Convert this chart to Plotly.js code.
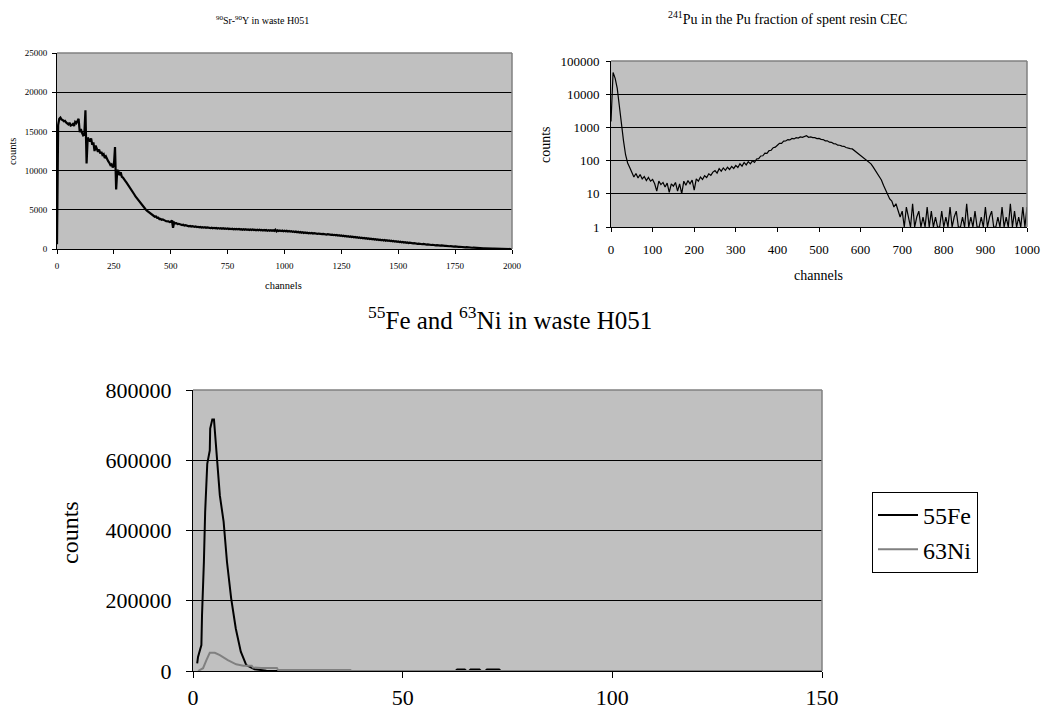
<!DOCTYPE html>
<html>
<head>
<meta charset="utf-8">
<script src="https://cdn.plot.ly/plotly-3.0.1.min.js"></script>
<style>html,body{margin:0;padding:0;background:#fff;}#chart{width:1041px;height:717px;}</style>
</head>
<body>
<div id="chart"></div>
<script>
// ---------- DATA ----------
// 90Sr-90Y spectrum, counts every 5 channels starting at channel 0
const srStart = 0;
const srStep = 5;
const srCounts = [
  600,15800,16600,16750,16500,16450,16300,16350,16150,16050,15900,16100,15750,15800,15950,15700,16200,16050,16400,16600,
  14900,15300,14800,14500,14600,17700,10900,14200,14000,13700,14100,13300,13600,12500,13200,12900,12400,12700,12200,12400,
  12000,12100,11600,11800,11400,11200,11000,10700,10800,10400,10600,13000,7600,10100,9900,9400,9800,9200,9100,8800,
  8700,8500,8300,8000,7800,7600,7400,7200,6950,6700,6500,6300,6100,5900,5700,5500,5350,5200,5050,4900,
  4800,4700,4500,4480,4300,4280,4120,4150,3980,3990,3820,3850,3720,3760,3640,3620,3540,3560,3520,3430,
  3480,3650,2700,3380,3270,3290,3180,3210,3120,3130,3050,3090,2990,3030,2960,2990,2900,2940,2860,2900,
  2850,2820,2880,2790,2830,2760,2810,2740,2780,2720,2770,2700,2750,2690,2730,2660,2720,2650,2700,2640,
  2690,2620,2670,2600,2660,2580,2640,2570,2620,2560,2610,2540,2600,2530,2590,2520,2570,2510,2560,2500,
  2550,2480,2530,2460,2520,2450,2510,2440,2500,2430,2490,2420,2480,2410,2470,2400,2460,2390,2450,2380,
  2440,2370,2430,2350,2420,2340,2410,2330,2400,2320,2390,2310,2450,2250,2380,2290,2360,2280,2350,2270,
  2340,2260,2320,2240,2300,2220,2280,2190,2250,2160,2220,2130,2190,2100,2160,2080,2130,2050,2100,2030,
  2080,2010,2060,1990,2040,1970,2010,1950,1990,1930,1970,1910,1950,1890,1930,1870,1910,1850,1890,1830,
  1870,1800,1840,1770,1810,1740,1780,1700,1750,1670,1720,1640,1690,1610,1660,1580,1630,1550,1600,1520,
  1570,1490,1540,1460,1500,1420,1470,1390,1440,1360,1410,1330,1380,1300,1350,1270,1320,1240,1290,1210,
  1260,1180,1230,1150,1200,1120,1170,1090,1140,1060,1110,1030,1080,1000,1050,970,1020,940,990,910,
  960,880,930,850,890,820,860,790,830,760,800,740,770,710,740,690,720,660,690,640,
  670,610,640,590,610,560,590,540,560,510,540,490,510,470,490,450,470,430,450,410,
  430,390,410,370,390,350,370,330,350,310,330,290,310,280,290,260,270,240,250,220,
  230,200,210,180,190,160,170,150,150,130,130,110,120,100,100,90,90,70,80,60,
  60,50,50,40,40,30,30,20,20,20,10,10,10,10,5,5,5,0,0,0,
  0
];

// 241Pu spectrum, counts every 5 channels starting at channel 0
const puStart = 0;
const puStep = 5;
const puCounts = [
  1500,45000,30000,15000,4500,1200,400,150,85,62,45,32,41,30,38,28,33,25,31,24,
  27,20,12,24,19,22,16,21,11,20,17,22,12,20,10,24,18,25,20,26,
  13,28,24,32,27,35,31,40,36,45,50,42,57,48,60,51,63,54,67,58,
  72,62,80,68,88,74,93,80,98,88,112,115,138,140,168,165,200,205,245,255,
  290,330,330,385,390,430,420,465,450,490,475,515,500,540,560,505,515,490,490,460,
  465,435,430,395,395,360,355,325,320,292,290,272,270,248,245,230,225,200,185,160,
  140,125,110,100,90,80,65,52,42,33,26,18,13,10,7,6,4,5,3,2,
  3,1,4,2,1,5,1,2,3,1,2,1,4,1,3,1,2,1,1,3,
  1,2,1,4,1,2,3,1,1,2,1,5,1,2,1,3,1,1,2,1,
  4,1,2,3,1,1,2,1,4,1,2,1,5,1,3,1,2,1,4,1,
  4
];

// 55Fe and 63Ni spectra (channel, counts)
const feChannels = [1,1.2,2,2.15,2.6,2.9,3.4,4,4.1,4.6,5,5.4,5.7,6.4,7.3,8.1,9.1,10.2,11.4,12.7,14.7,17.5,20,30,40,50,60,62.6,63,64.8,65.2,65.8,66.2,68.3,68.7,69.7,70.1,73,73.4,80,100,120,150];
const feCounts   = [22000,40000,74000,159000,311000,453000,590000,628000,690000,716000,716000,652000,590000,500000,425000,311000,207000,121000,55000,17000,5000,1000,0,0,0,0,0,0,4000,4000,0,0,4000,4000,0,0,4000,4000,0,0,0,0,0];
const niChannels = [1.2,2.4,3.2,4,5.2,6.4,8.3,10.3,12,14,14.3,16,16.3,20,20.3,37.5,37.8,150];
const niCounts   = [0,8000,31000,52000,52000,45000,31000,19000,15000,15000,10000,9000,8500,8500,3000,3000,0,0];

// tick labels
const puTickVals = [1,10,100,1000,10000,100000];
const puTickText = ["1","10","100","1000","10000","100000"];

// titles / names
const titleSr = "<sup>90</sup>Sr-<sup>90</sup>Y in waste H051";
const titlePu = "<sup>241</sup>Pu in the Pu fraction of spent resin CEC";
const titleFeNi = "<sup>55</sup>Fe and <sup>63</sup>Ni in waste H051";
const nameFe = "55Fe";
const nameNi = "63Ni";

// ---------- LAYOUT HELPERS ----------
const W = 1041, H = 717;
const fx = p => p / W;
const fy = p => 1 - p / H;
const FONT = "Liberation Serif";

const traces = [
  {x0: srStart, dx: srStep, y: srCounts, type: "scatter", mode: "lines",
   line: {color: "#000", width: 2.2}, xaxis: "x", yaxis: "y", showlegend: false, hoverinfo: "skip"},
  {x0: puStart, dx: puStep, y: puCounts, type: "scatter", mode: "lines",
   line: {color: "#000", width: 1.2}, xaxis: "x2", yaxis: "y2", showlegend: false, hoverinfo: "skip"},
  {x: feChannels, y: feCounts, type: "scatter", mode: "lines", name: nameFe,
   line: {color: "#000", width: 2}, xaxis: "x3", yaxis: "y3", hoverinfo: "skip"},
  {x: niChannels, y: niCounts, type: "scatter", mode: "lines", name: nameNi,
   line: {color: "#808080", width: 2}, xaxis: "x3", yaxis: "y3", hoverinfo: "skip"}
];

function axisBase(size, len, standoff) {
  return {
    showline: true, linecolor: "#000", linewidth: 1,
    ticks: "outside", ticklen: len, tickcolor: "#000", tickwidth: 1,
    tickfont: {family: FONT, size: size, color: "#000"},
    ticklabelstandoff: standoff, tickformat: "d", exponentformat: "none",
    zeroline: false, automargin: false, fixedrange: true
  };
}

const layout = {
  width: W, height: H,
  margin: {l: 0, r: 0, t: 0, b: 0, pad: 0},
  paper_bgcolor: "#fff",
  plot_bgcolor: "#C0C0C0",
  font: {family: FONT, color: "#000"},
  showlegend: true,
  legend: {
    x: fx(872), y: fy(492), xanchor: "left", yanchor: "top",
    bgcolor: "#fff", bordercolor: "#000", borderwidth: 1,
    font: {family: FONT, size: 24, color: "#000"},
    tracegroupgap: 0, itemwidth: 40
  },
  xaxis: Object.assign(axisBase(9, 4, 4), {
    domain: [fx(57), fx(512)], anchor: "y", range: [0, 2000], tick0: 0, dtick: 250, showgrid: false
  }),
  yaxis: Object.assign(axisBase(9, 4, 3), {
    domain: [fy(249), fy(53)], anchor: "x", range: [0, 25000], tick0: 0, dtick: 5000,
    showgrid: true, gridcolor: "#000", gridwidth: 1
  }),
  xaxis2: Object.assign(axisBase(13, 4, 6), {
    domain: [fx(611), fx(1027)], anchor: "y2", range: [0, 1000], tick0: 0, dtick: 100, showgrid: false
  }),
  yaxis2: Object.assign(axisBase(13, 4, 4), {
    domain: [fy(227), fy(61)], anchor: "x2", type: "log", range: [0, 5],
    tickvals: puTickVals, ticktext: puTickText,
    showgrid: true, gridcolor: "#000", gridwidth: 1
  }),
  xaxis3: Object.assign(axisBase(22, 6, 1), {
    domain: [fx(193), fx(822)], anchor: "y3", range: [0, 150], tick0: 0, dtick: 50, showgrid: false
  }),
  yaxis3: Object.assign(axisBase(22, 6, 10), {
    domain: [fy(671), fy(390)], anchor: "x3", range: [0, 800000], tick0: 0, dtick: 200000,
    showgrid: true, gridcolor: "#000", gridwidth: 1
  }),
  shapes: [],
  annotations: [
    {text: titleSr, x: fx(262), y: fy(20), xref: "paper", yref: "paper", showarrow: false,
     xanchor: "center", yanchor: "middle", font: {family: FONT, size: 10}},
    {text: "counts", x: fx(12), y: fy(152), xref: "paper", yref: "paper", showarrow: false, textangle: -90,
     xanchor: "center", yanchor: "middle", font: {family: FONT, size: 10.5}},
    {text: "channels", x: fx(283), y: fy(285), xref: "paper", yref: "paper", showarrow: false,
     xanchor: "center", yanchor: "middle", font: {family: FONT, size: 10.5}},
    {text: titlePu, x: fx(787), y: fy(18), xref: "paper", yref: "paper", showarrow: false,
     xanchor: "center", yanchor: "middle", font: {family: FONT, size: 14}},
    {text: "counts", x: fx(545), y: fy(145), xref: "paper", yref: "paper", showarrow: false, textangle: -90,
     xanchor: "center", yanchor: "middle", font: {family: FONT, size: 14}},
    {text: "channels", x: fx(818), y: fy(275), xref: "paper", yref: "paper", showarrow: false,
     xanchor: "center", yanchor: "middle", font: {family: FONT, size: 14}},
    {text: titleFeNi, x: fx(510), y: fy(318), xref: "paper", yref: "paper", showarrow: false,
     xanchor: "center", yanchor: "middle", font: {family: FONT, size: 25}},
    {text: "counts", x: fx(70), y: fy(533), xref: "paper", yref: "paper", showarrow: false, textangle: -90,
     xanchor: "center", yanchor: "middle", font: {family: FONT, size: 24}}
  ]
};

// gray plot-area border on top and right of each subplot
[["x", "y"], ["x2", "y2"], ["x3", "y3"]].forEach(([xa, ya]) => {
  layout.shapes.push({type: "line", xref: xa + " domain", yref: ya + " domain", x0: 0, x1: 1, y0: 1, y1: 1,
    line: {color: "#808080", width: 1.5}, layer: "above"});
  layout.shapes.push({type: "line", xref: xa + " domain", yref: ya + " domain", x0: 1, x1: 1, y0: 0, y1: 1,
    line: {color: "#808080", width: 1.5}, layer: "above"});
});

Plotly.newPlot("chart", traces, layout, {displayModeBar: false, staticPlot: true});
</script>
</body>
</html>
